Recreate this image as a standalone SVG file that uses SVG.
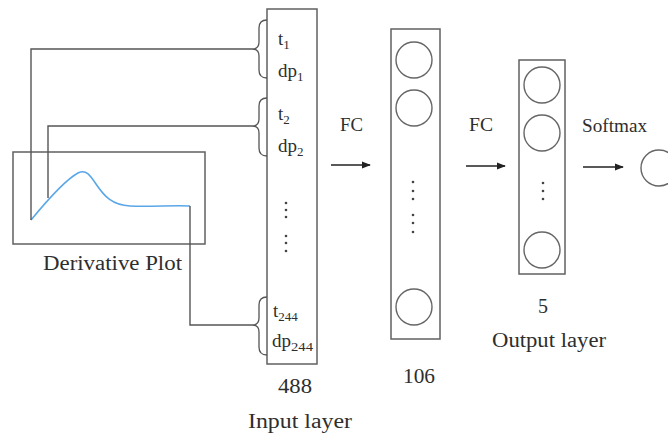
<svg xmlns="http://www.w3.org/2000/svg" width="668" height="434" viewBox="0 0 668 434">
<defs>
<style>
.box{fill:none;stroke:#606060;stroke-width:1.5}
.neuron{fill:none;stroke:#666;stroke-width:1.4}
.wire{fill:none;stroke:#555;stroke-width:1.4}
.brace{fill:none;stroke:#555;stroke-width:1.3}
.curve{fill:none;stroke:#5aa7e8;stroke-width:1.6}
.lbl{font-family:"Liberation Serif","Times New Roman",serif;fill:#2e2e2e}
.big{font-size:20px}
.mid{font-size:19px}
.sub{font-size:13px}
.dot{fill:#444}
.arrow{fill:none;stroke:#222;stroke-width:1.3}
</style>
<marker id="ah" viewBox="0 0 10 10" refX="9" refY="5" markerWidth="9" markerHeight="9" markerUnits="userSpaceOnUse" orient="auto">
<path d="M0,1 L10,5 L0,9 Z" fill="#222"/>
</marker>
</defs>
<rect width="668" height="434" fill="#fff"/>

<g id="derivative-plot">
<rect class="box" x="13" y="152" width="192" height="92"/>
<path class="curve" d="M31,220 C45,203 65,180 78,173 C86,169 90,175 96,184 C104,196 112,205 130,206 C150,207 175,205 190,206"/>
<text class="lbl big" x="43" y="270" textLength="139" lengthAdjust="spacingAndGlyphs">Derivative Plot</text>
</g>

<g id="input-layer">
<rect class="box" x="267" y="9" width="50" height="355"/>
<path class="brace" d="M267,20 C261,20 259,23 259,28 L259,42 C259,46 257,49 252,49 C257,49 259,52 259,56 L259,70 C259,75 261,78 267,78"/>
<path class="brace" d="M267,98 C261,98 259,101 259,106 L259,119 C259,123 257,126 252,126 C257,126 259,129 259,133 L259,148 C259,153 261,156 267,156"/>
<path class="brace" d="M267,297 C261,297 259,300 259,305 L259,318 C259,322 257,325 252,325 C257,325 259,328 259,332 L259,347 C259,352 261,355 267,355"/>
<text class="lbl mid" x="278" y="45">t<tspan class="sub" dy="4">1</tspan></text>
<text class="lbl mid" x="278" y="77">dp<tspan class="sub" dy="4">1</tspan></text>
<text class="lbl mid" x="278" y="120">t<tspan class="sub" dy="4">2</tspan></text>
<text class="lbl mid" x="278" y="152">dp<tspan class="sub" dy="4">2</tspan></text>
<circle class="dot" cx="286" cy="203" r="1.3"/>
<circle class="dot" cx="286" cy="210" r="1.3"/>
<circle class="dot" cx="286" cy="217" r="1.3"/>
<circle class="dot" cx="286" cy="236" r="1.3"/>
<circle class="dot" cx="286" cy="243" r="1.3"/>
<circle class="dot" cx="286" cy="251" r="1.3"/>
<text class="lbl mid" x="273" y="317">t<tspan class="sub" dy="4">244</tspan></text>
<text class="lbl mid" x="272" y="347">dp<tspan class="sub" dy="4" textLength="22" lengthAdjust="spacingAndGlyphs">244</tspan></text>
<text class="lbl big" x="278" y="393" textLength="34" lengthAdjust="spacingAndGlyphs">488</text>
<text class="lbl big" x="248" y="428" textLength="104" lengthAdjust="spacingAndGlyphs">Input layer</text>
</g>

<g id="hidden-layer">
<rect class="box" x="391" y="29" width="49" height="310"/>
<circle class="neuron" cx="414" cy="60" r="18"/>
<circle class="neuron" cx="414" cy="108" r="18"/>
<circle class="neuron" cx="414" cy="307" r="18"/>
<circle class="dot" cx="413" cy="182" r="1.3"/>
<circle class="dot" cx="413" cy="191" r="1.3"/>
<circle class="dot" cx="413" cy="199" r="1.3"/>
<circle class="dot" cx="413" cy="215" r="1.3"/>
<circle class="dot" cx="413" cy="223" r="1.3"/>
<circle class="dot" cx="413" cy="232" r="1.3"/>
<text class="lbl big" x="403" y="383" textLength="32" lengthAdjust="spacingAndGlyphs">106</text>
</g>

<g id="output-layer">
<rect class="box" x="519" y="60" width="46" height="214"/>
<circle class="neuron" cx="542" cy="85" r="18"/>
<circle class="neuron" cx="542" cy="133" r="18"/>
<circle class="neuron" cx="542" cy="250" r="18"/>
<circle class="dot" cx="543" cy="183" r="1.3"/>
<circle class="dot" cx="543" cy="191" r="1.3"/>
<circle class="dot" cx="543" cy="199" r="1.3"/>
<text class="lbl big" x="538" y="313" textLength="10" lengthAdjust="spacingAndGlyphs">5</text>
<text class="lbl big" x="492" y="347" textLength="114" lengthAdjust="spacingAndGlyphs">Output layer</text>
</g>

<g id="softmax-output">
<circle class="neuron" cx="659" cy="168" r="18"/>
</g>

<g id="connectors">
<path class="wire" d="M252,49 L31,49 L31,220"/>
<path class="wire" d="M252,126 L48,126 L48,198"/>
<path class="wire" d="M190,206 L190,325 L252,325"/>
<line class="arrow" x1="331" y1="165" x2="370" y2="165" marker-end="url(#ah)"/>
<line class="arrow" x1="466" y1="166" x2="505" y2="166" marker-end="url(#ah)"/>
<line class="arrow" x1="583" y1="167" x2="623" y2="167" marker-end="url(#ah)"/>
<text class="lbl mid" x="340" y="131" textLength="23" lengthAdjust="spacingAndGlyphs">FC</text>
<text class="lbl mid" x="469" y="131" textLength="24" lengthAdjust="spacingAndGlyphs">FC</text>
<text class="lbl mid" x="582" y="132" textLength="65" lengthAdjust="spacingAndGlyphs">Softmax</text>
</g>
</svg>
